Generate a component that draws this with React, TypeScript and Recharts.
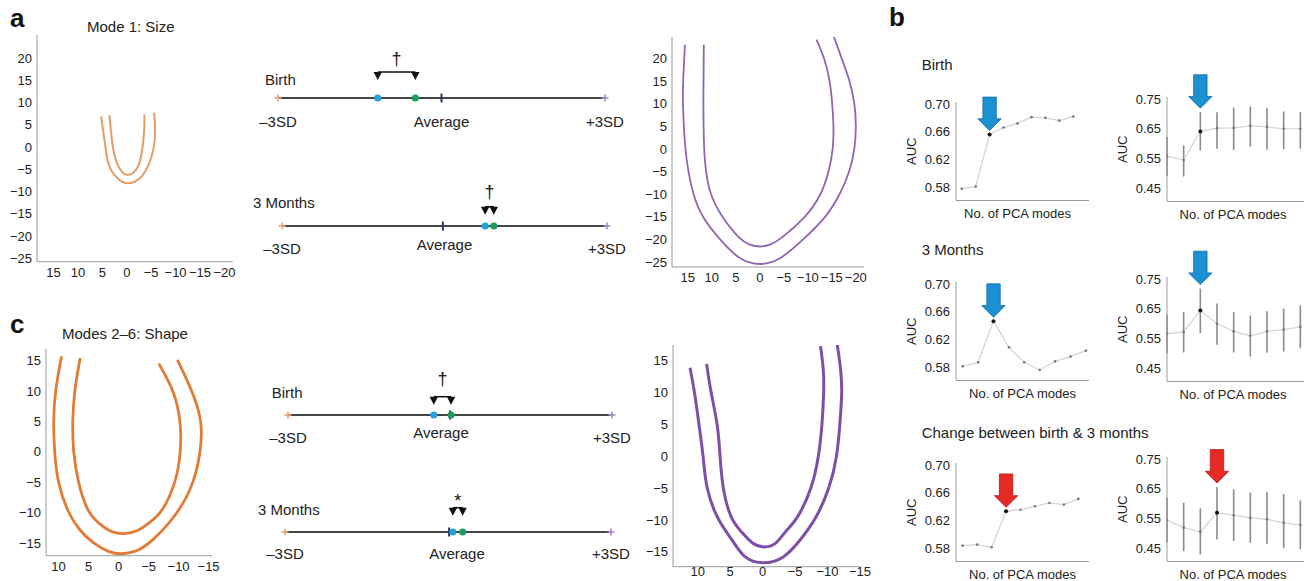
import React from "react";
import {
  LineChart,
  Line,
  XAxis,
  YAxis,
  ScatterChart,
  Scatter,
  ReferenceLine,
  ReferenceDot,
  ErrorBar,
} from "recharts";

const FONT = '"Liberation Sans", Arial, Helvetica, sans-serif';
const INK = "#222";
const AXIS = "#9a9a9a";

// ---- outlines (panel a: mode 1 size, panel c: modes 2-6 shape)
const sizeLowOuter = [
  { x: 5.27, y: 6.91 }, { x: 4.37, y: 0 }, { x: 3.89, y: -3.75 }, { x: 3.07, y: -5.63 },
  { x: 2.05, y: -6.9 }, { x: 1.02, y: -7.88 }, { x: 0, y: -8.25 }, { x: -1.37, y: -8.03 },
  { x: -2.73, y: -7.13 }, { x: -3.76, y: -5.63 }, { x: -4.78, y: -3.38 }, { x: -5.46, y: -0.75 },
  { x: -5.81, y: 2.25 }, { x: -5.81, y: 5.27 }, { x: -5.6, y: 7.74 },
];
const sizeLowInner = [
  { x: 3.55, y: 7.14 }, { x: 3.21, y: 3.0 }, { x: 2.87, y: 0 }, { x: 2.39, y: -2.63 },
  { x: 1.71, y: -4.5 }, { x: 0.89, y: -5.86 }, { x: 0, y: -6.37 }, { x: -1.02, y: -6.15 },
  { x: -1.91, y: -5.25 }, { x: -2.6, y: -3.75 }, { x: -3.07, y: -1.5 }, { x: -3.41, y: 1.5 },
  { x: -3.62, y: 4.5 }, { x: -3.62, y: 7.36 },
];
const sizeHighOuter = [
  { x: 15.6, y: 23.1 }, { x: 16.0, y: 15.2 }, { x: 16.1, y: 10.15 }, { x: 15.6, y: 0 },
  { x: 14.9, y: -5.04 }, { x: 13.9, y: -10.07 }, { x: 12.15, y: -15.04 }, { x: 8.33, y: -20.07 },
  { x: 4.17, y: -24.7 }, { x: 0, y: -25.8 }, { x: -4.17, y: -24.7 }, { x: -9.0, y: -20.07 },
  { x: -13.9, y: -15.04 }, { x: -16.7, y: -10.07 }, { x: -18.75, y: -5.04 }, { x: -19.8, y: 0 },
  { x: -20.1, y: 4.96 }, { x: -19.8, y: 10.15 }, { x: -18.75, y: 15.2 }, { x: -17.0, y: 20.15 },
  { x: -15.4, y: 24.96 },
];
const sizeHighInner = [
  { x: 11.67, y: 23.1 }, { x: 11.8, y: 10.15 }, { x: 11.67, y: 0 }, { x: 11.25, y: -5.04 },
  { x: 10.4, y: -10.07 }, { x: 7.98, y: -15.04 }, { x: 4.17, y: -20.07 }, { x: 2.08, y: -21.3 },
  { x: 0, y: -21.7 }, { x: -2.08, y: -21.3 }, { x: -4.17, y: -20.07 }, { x: -9.7, y: -15.04 },
  { x: -12.85, y: -10.07 }, { x: -14.4, y: -5.04 }, { x: -15.3, y: 0 }, { x: -15.4, y: 4.96 },
  { x: -15.1, y: 10.15 }, { x: -14.6, y: 15.2 }, { x: -13.5, y: 20.15 }, { x: -11.8, y: 24.2 },
];
const shapeLowOuter = [
  { x: 9.5, y: 15.7 }, { x: 10.6, y: 10 }, { x: 10.9, y: 5 }, { x: 10.7, y: 0 },
  { x: 10.2, y: -5 }, { x: 8.5, y: -10 }, { x: 6.5, y: -13 }, { x: 4.3, y: -15 },
  { x: 1.55, y: -16.6 }, { x: -0.4, y: -16.9 }, { x: -2.9, y: -16.5 }, { x: -5.4, y: -15 },
  { x: -10.1, y: -10 }, { x: -12.6, y: -5 }, { x: -13.7, y: 0 }, { x: -14.0, y: 5 },
  { x: -12.3, y: 10 }, { x: -9.8, y: 15.1 },
];
const shapeLowInner = [
  { x: 6.4, y: 15.4 }, { x: 7.4, y: 10 }, { x: 7.7, y: 5 }, { x: 7.6, y: 0 },
  { x: 6.8, y: -5 }, { x: 5.2, y: -10 }, { x: 3.2, y: -11.9 }, { x: 1.2, y: -13.3 },
  { x: -1, y: -13.6 }, { x: -3.2, y: -13.1 }, { x: -5.1, y: -11.7 }, { x: -7.3, y: -10 },
  { x: -9.6, y: -5 }, { x: -10.4, y: 0 }, { x: -10.4, y: 5 }, { x: -9.3, y: 10 },
  { x: -6.7, y: 14.5 },
];
const shapeHighOuter = [
  { x: 11.18, y: 13.9 }, { x: 10.46, y: 10.05 }, { x: 9.8, y: 4.98 }, { x: 9.12, y: 0 },
  { x: 8.77, y: -4.97 }, { x: 6.97, y: -10.05 }, { x: 4.67, y: -13.1 }, { x: 2.87, y: -16.2 },
  { x: -0.1, y: -17.0 }, { x: -3.28, y: -16.2 }, { x: -5.85, y: -13.1 }, { x: -8.15, y: -10.05 },
  { x: -10.36, y: -4.97 }, { x: -11.5, y: 0 }, { x: -11.9, y: 4.98 }, { x: -12.26, y: 10.05 },
  { x: -12.1, y: 13.35 }, { x: -11.5, y: 17.5 },
];
const shapeHighInner = [
  { x: 8.62, y: 14.5 }, { x: 8.0, y: 10.05 }, { x: 6.87, y: 4.98 }, { x: 6.56, y: 0 },
  { x: 6.2, y: -4.97 }, { x: 4.92, y: -10.05 }, { x: 3.13, y: -12.0 }, { x: 1.59, y: -13.86 },
  { x: -0.2, y: -14.4 }, { x: -2.0, y: -14.0 }, { x: -3.28, y: -12.0 }, { x: -5.33, y: -10.05 },
  { x: -7.64, y: -4.97 }, { x: -8.67, y: 0 }, { x: -9.18, y: 4.98 }, { x: -9.44, y: 10.05 },
  { x: -9.44, y: 13.35 }, { x: -8.92, y: 17.3 },
];

const sizeXTicks = [15, 10, 5, 0, -5, -10, -15, -20];
const sizeYTicks = [20, 15, 10, 5, 0, -5, -10, -15, -20, -25];
const shapeXTicks = [10, 5, 0, -5, -10, -15];
const shapeYTicks = [15, 10, 5, 0, -5, -10, -15];

// ---- SD number lines: [average, blue group, green group] in SD units
const sdTicks = [-3, 0, 3];
const sdLabels = ["–3SD", "Average", "+3SD"];
const sizeBirthPos = [0, -1.17, -0.48];
const sizeMonthPos = [-0.03, 0.75, 0.91];
const shapeBirthPos = [0, -0.3, 0.02];
const shapeMonthPos = [0.02, 0.09, 0.27];

// ---- panel b: AUC vs number of PCA modes (1..9)
const leftAucTicks = [0.58, 0.62, 0.66, 0.7];
const rightAucTicks = [0.45, 0.55, 0.65, 0.75];
const birthAuc = [0.578, 0.581, 0.656, 0.666, 0.672, 0.681, 0.68, 0.676, 0.682];
const birthCv = [0.557, 0.545, 0.641, 0.652, 0.653, 0.66, 0.656, 0.65, 0.65];
const birthCvLow = [0.492, 0.489, 0.577, 0.583, 0.579, 0.59, 0.579, 0.581, 0.583];
const birthCvHigh = [0.622, 0.594, 0.706, 0.706, 0.721, 0.725, 0.721, 0.708, 0.706];
const monthAuc = [0.5814, 0.5872, 0.6463, 0.6088, 0.5872, 0.5762, 0.5886, 0.5954, 0.604];
const monthCv = [0.566, 0.572, 0.644, 0.6, 0.574, 0.559, 0.574, 0.58, 0.589];
const monthCvLow = [0.5, 0.503, 0.568, 0.529, 0.503, 0.489, 0.503, 0.506, 0.517];
const monthCvHigh = [0.63, 0.639, 0.718, 0.668, 0.639, 0.627, 0.642, 0.65, 0.661];
const changeAuc = [0.5839, 0.5853, 0.5815, 0.6332, 0.6356, 0.6405, 0.6453, 0.6429, 0.6511];
const changeCv = [0.544, 0.519, 0.505, 0.569, 0.561, 0.552, 0.547, 0.535, 0.528];
const changeCvLow = [0.47, 0.44, 0.429, 0.479, 0.474, 0.468, 0.465, 0.451, 0.446];
const changeCvHigh = [0.62, 0.603, 0.584, 0.656, 0.648, 0.637, 0.64, 0.633, 0.611];

const fmt = (v: number) => (v < 0 ? "\u2212" + Math.abs(v) : String(v));

type Pt = { x: number; y: number };

function ShapePlot(props: {
  axisX: number; plotTop: number; plotW: number; plotH: number;
  xDomain: [number, number]; yDomain: [number, number];
  xTicks: number[]; yTicks: number[]; curves: Pt[][]; color: string; lineWidth: number;
  xTickSize?: number; xGap?: number;
}) {
  const { axisX, plotTop, plotW, plotH, xDomain, yDomain, xTicks, yTicks, curves, color, lineWidth, xTickSize = 3, xGap = 3 } = props;
  const yw = 40, pad = 8, padR = 22, xh = 24;
  return (
    <div style={{ position: "absolute", left: axisX - yw, top: plotTop - pad }}>
      <LineChart width={yw + plotW + padR} height={pad + plotH + xh} margin={{ top: pad, right: padR, bottom: 0, left: 0 }}>
        <XAxis
          type="number" dataKey="x" domain={xDomain} ticks={xTicks} reversed allowDataOverflow interval={0}
          height={xh} tickFormatter={fmt} tick={{ fill: INK, fontSize: 13 }} tickLine={false}
          tickSize={xTickSize} tickMargin={xGap} axisLine={{ stroke: AXIS }}
        />
        <YAxis
          type="number" domain={yDomain} ticks={yTicks} allowDataOverflow interval={0} width={yw}
          tickFormatter={fmt} tick={{ fill: INK, fontSize: 13 }} tickLine={false}
          tickSize={3} tickMargin={2} axisLine={{ stroke: AXIS }}
        />
        {curves.map((c, i) => (
          <Line key={i} data={c} dataKey="y" type="basis" stroke={color} strokeWidth={lineWidth}
            dot={false} isAnimationActive={false} />
        ))}
      </LineChart>
    </div>
  );
}

function SdTick(props: any) {
  const { x, y, payload, sdDy, avgDy, avgDx } = props;
  const i = sdTicks.indexOf(payload.value);
  const mid = i === 1;
  return (
    <text x={x + (mid ? avgDx : 0)} y={y + (mid ? avgDy : sdDy) + 10.7} textAnchor="middle" fill={INK} fontSize={15}>
      {sdLabels[i]}
    </text>
  );
}

const NL_PAD = 32;
const NL_H = 50;

function NumberLine(props: {
  start: number; end: number; lineY: number; pos: number[];
  bracketH: number; symH: number; symbol: string; sdDy: number; avgDy: number; avgDx: number;
}) {
  const { start, end, lineY, pos, bracketH, symH, symbol, sdDy, avgDy, avgDx } = props;
  const [avg, blue, green] = pos;
  const heads = [{ x: blue, y: bracketH }, { x: green, y: bracketH }];
  const sym = [{ x: (blue + green) / 2, y: symH }];
  const isStar = symbol === "*";
  const plus = (color: string) => (p: any) => (
    <g>
      <line x1={p.cx - 3.5} x2={p.cx + 3.5} y1={p.cy} y2={p.cy} stroke={color} strokeWidth={1.6} />
      <line x1={p.cx} x2={p.cx} y1={p.cy - 3.5} y2={p.cy + 3.5} stroke={color} strokeWidth={1.6} />
    </g>
  );
  return (
    <div style={{ position: "absolute", left: start - NL_PAD, top: lineY - NL_H }}>
      <ScatterChart width={end - start + 2 * NL_PAD} height={NL_H + 40} margin={{ top: 0, right: NL_PAD, bottom: 0, left: NL_PAD }}>
        <XAxis
          type="number" dataKey="x" domain={[-3, 3]} ticks={sdTicks} interval={0} height={40}
          axisLine={false} tickLine={false} tickSize={0} tickMargin={0}
          tick={<SdTick sdDy={sdDy} avgDy={avgDy} avgDx={avgDx} />}
        />
        <YAxis type="number" dataKey="y" domain={[0, NL_H]} hide />
        <ReferenceLine segment={[{ x: -3, y: 0 }, { x: 3, y: 0 }]} stroke="#454545" strokeWidth={1.8} />
        <ReferenceLine segment={[{ x: blue, y: bracketH }, { x: green, y: bracketH }]} stroke="#111" strokeWidth={1.5} />
        <Scatter data={[{ x: -3, y: 0 }]} shape={plus("#f0a070")} isAnimationActive={false} />
        <Scatter data={[{ x: 3, y: 0 }]} shape={plus("#a88bd0")} isAnimationActive={false} />
        <Scatter
          data={[{ x: avg, y: 0 }]} isAnimationActive={false}
          shape={(p: any) => <line x1={p.cx} x2={p.cx} y1={p.cy - 4.5} y2={p.cy + 4.5} stroke="#27396a" strokeWidth={2} />}
        />
        <Scatter data={[{ x: blue, y: 0 }]} isAnimationActive={false}
          shape={(p: any) => <circle cx={p.cx} cy={p.cy} r={3.6} fill="#2a9fd8" />} />
        <Scatter data={[{ x: green, y: 0 }]} isAnimationActive={false}
          shape={(p: any) => <circle cx={p.cx} cy={p.cy} r={3.6} fill="#1f9c60" />} />
        <Scatter data={heads} isAnimationActive={false}
          shape={(p: any) => (
            <polygon points={`${p.cx - 4.2},${p.cy} ${p.cx + 4.2},${p.cy} ${p.cx},${p.cy + 8}`} fill="#111" />
          )} />
        <Scatter data={sym} isAnimationActive={false}
          shape={(p: any) => (
            <text x={p.cx} y={p.cy + (isStar ? 10.4 : 5.5)} textAnchor="middle" fill="#111" fontSize={18}>
              {symbol}
            </text>
          )} />
      </ScatterChart>
    </div>
  );
}

function AucPanel(props: {
  axisX: number; plotTop: number; plotW: number; plotH: number;
  xDomain: [number, number]; yDomain: [number, number]; yTicks: number[];
  values: number[]; lows?: number[]; highs?: number[]; pick: number;
  arrow: string; arrowEdge: string; labelDx: number;
}) {
  const { axisX, plotTop, plotW, plotH, xDomain, yDomain, yTicks, values, lows, highs, pick, arrow, arrowEdge, labelDx } = props;
  const data = values.map((v, i) => ({
    i: i + 1,
    v,
    err: lows && highs ? [v - lows[i], highs[i] - v] : [0, 0],
  }));
  const anchor = highs ? highs[pick - 1] : values[pick - 1];
  const yw = 58, top = 40, xh = 17;
  const arrowShape = (p: any) => {
    const cx = p.cx, tip = p.cy - 4;
    const base = tip - 11.7, upper = tip - 33.4;
    const pts = [
      [cx - 6.7, upper], [cx + 6.7, upper], [cx + 6.7, base], [cx + 11.7, base],
      [cx, tip], [cx - 11.7, base], [cx - 6.7, base],
    ].map((q) => q.join(",")).join(" ");
    return <polygon points={pts} fill={arrow} stroke={arrowEdge} strokeWidth={0.8} />;
  };
  return (
    <div style={{ position: "absolute", left: axisX - yw, top: plotTop - top }}>
      <LineChart width={yw + plotW + 6} height={top + plotH + xh + 2} data={data}
        margin={{ top, right: 6, bottom: 2, left: 0 }}>
        <XAxis
          type="number" dataKey="i" domain={xDomain} allowDataOverflow tick={false} tickLine={false}
          height={xh} axisLine={{ stroke: AXIS }}
          label={{ value: "No. of PCA modes", position: "insideBottom", offset: 0, dx: labelDx, style: { fill: INK, fontSize: 13 } }}
        />
        <YAxis
          type="number" domain={yDomain} ticks={yTicks} allowDataOverflow interval={0} width={yw}
          tickFormatter={(v: number) => v.toFixed(2)} tick={{ fill: INK, fontSize: 13 }}
          tickLine={false} tickSize={4} tickMargin={2} axisLine={{ stroke: AXIS }}
          label={{ value: "AUC", angle: -90, position: "insideLeft", offset: 13, style: { textAnchor: "middle", fill: INK, fontSize: 13 } }}
        />
        <Line
          dataKey="v" type="linear" stroke="#d3d3d3" strokeWidth={1.2} isAnimationActive={false}
          dot={(p: any) => (
            <circle key={p.index} cx={p.cx} cy={p.cy} r={p.index === pick - 1 ? 2 : 1.3}
              fill={p.index === pick - 1 ? "#111" : "#777"} />
          )}
        >
          {lows ? <ErrorBar dataKey="err" width={0} stroke="#8a8a8a" strokeWidth={1.6} direction="y" isAnimationActive={false} /> : null}
        </Line>
        <ReferenceDot x={pick} y={anchor} r={0} shape={arrowShape} />
      </LineChart>
    </div>
  );
}

const BLUE = "#1c90d3", BLUE_EDGE = "#0f6aa6", RED = "#e62a26", RED_EDGE = "#b81a18";

export default function App() {
  return (
    <div style={{ position: "relative", width: 1304, height: 581, overflow: "hidden", background: "#fff", fontFamily: FONT }}>
      <style>{"body{margin:0}"}</style>

      <ShapePlot axisX={36.7} plotTop={35} plotW={195.7} plotH={226.7} xDomain={[-21.7, 18.4]} yDomain={[-25.8, 25.2]}
        xTicks={sizeXTicks} yTicks={sizeYTicks} curves={[sizeLowOuter, sizeLowInner]} color="#e29d68" lineWidth={2} />
      <ShapePlot axisX={672} plotTop={36.7} plotW={192} plotH={230} xDomain={[-21.7, 18.3]} yDomain={[-26.1, 24.8]}
        xTicks={sizeXTicks} yTicks={sizeYTicks} curves={[sizeHighOuter, sizeHighInner]} color="#9165b0" lineWidth={1.8} />
      <ShapePlot axisX={45.7} plotTop={349.3} plotW={166.2} plotH={206.7} xDomain={[-15.6, 12.1]} yDomain={[-17.1, 16.9]}
        xTicks={shapeXTicks} yTicks={shapeYTicks} curves={[shapeLowOuter, shapeLowInner]} color="#e27b34" lineWidth={2.8} />
      <ShapePlot axisX={672.5} plotTop={345} plotW={187} plotH={221.7} xDomain={[-15, 13.8]} yDomain={[-17.35, 17.47]}
        xTicks={shapeXTicks} yTicks={shapeYTicks} curves={[shapeHighOuter, shapeHighInner]} color="#7d4fa8" lineWidth={3}
        xTickSize={0} xGap={0} />

      <NumberLine start={278} end={605} lineY={97.7} pos={sizeBirthPos} bracketH={26} symH={39} symbol="†" sdDy={18.3} avgDy={18.3} avgDx={0} />
      <NumberLine start={282} end={607} lineY={226} pos={sizeMonthPos} bracketH={19.3} symH={33.5} symbol="†" sdDy={17.3} avgDy={13.3} avgDx={0} />
      <NumberLine start={288} end={612} lineY={415} pos={shapeBirthPos} bracketH={18.3} symH={36} symbol="†" sdDy={17.7} avgDy={12.3} avgDx={-9} />
      <NumberLine start={285} end={611} lineY={531.7} pos={shapeMonthPos} bracketH={24.3} symH={35} symbol="*" sdDy={16.6} avgDy={16.6} avgDx={9} />

      <AucPanel axisX={956} plotTop={101.7} plotW={133} plotH={98.5} xDomain={[0.591, 10.125]} yDomain={[0.561, 0.7028]}
        yTicks={leftAucTicks} values={birthAuc} pick={3} arrow={BLUE} arrowEdge={BLUE_EDGE} labelDx={-5} />
      <AucPanel axisX={1167.3} plotTop={96.7} plotW={150} plotH={104.5} xDomain={[1, 10]} yDomain={[0.405, 0.757]}
        yTicks={rightAucTicks} values={birthCv} lows={birthCvLow} highs={birthCvHigh} pick={3} arrow={BLUE} arrowEdge={BLUE_EDGE} labelDx={-9} />
      <AucPanel axisX={956} plotTop={281.7} plotW={133} plotH={98.5} xDomain={[0.565, 9.2]} yDomain={[0.561, 0.7028]}
        yTicks={leftAucTicks} values={monthAuc} pick={3} arrow={BLUE} arrowEdge={BLUE_EDGE} labelDx={0} />
      <AucPanel axisX={1167.3} plotTop={276.7} plotW={150} plotH={104.5} xDomain={[1, 10]} yDomain={[0.405, 0.757]}
        yTicks={rightAucTicks} values={monthCv} lows={monthCvLow} highs={monthCvHigh} pick={3} arrow={BLUE} arrowEdge={BLUE_EDGE} labelDx={-9} />
      <AucPanel axisX={956} plotTop={462.7} plotW={133} plotH={98.5} xDomain={[0.537, 9.735]} yDomain={[0.561, 0.7028]}
        yTicks={leftAucTicks} values={changeAuc} pick={4} arrow={RED} arrowEdge={RED_EDGE} labelDx={0} />
      <AucPanel axisX={1167.3} plotTop={456.7} plotW={150} plotH={104.5} xDomain={[1, 10]} yDomain={[0.405, 0.757]}
        yTicks={rightAucTicks} values={changeCv} lows={changeCvLow} highs={changeCvHigh} pick={4} arrow={RED} arrowEdge={RED_EDGE} labelDx={-9} />

      <svg width={1304} height={581} style={{ position: "absolute", left: 0, top: 0, pointerEvents: "none" }}>
        <g fill="#111" fontWeight="bold" fontSize={26}>
          <text x={10} y={26.5}>a</text>
          <text x={889} y={26}>b</text>
          <text x={10} y={333}>c</text>
        </g>
        <g fill={INK} fontSize={15}>
          <text x={87} y={32}>Mode 1: Size</text>
          <text x={62} y={339}>Modes 2–6: Shape</text>
          <text x={265} y={85}>Birth</text>
          <text x={253} y={207.5}>3 Months</text>
          <text x={271.7} y={398.3}>Birth</text>
          <text x={258} y={515}>3 Months</text>
          <text x={921.7} y={70}>Birth</text>
          <text x={921.7} y={255}>3 Months</text>
          <text x={921.7} y={437.5}>Change between birth &amp; 3 months</text>
        </g>
      </svg>
    </div>
  );
}
